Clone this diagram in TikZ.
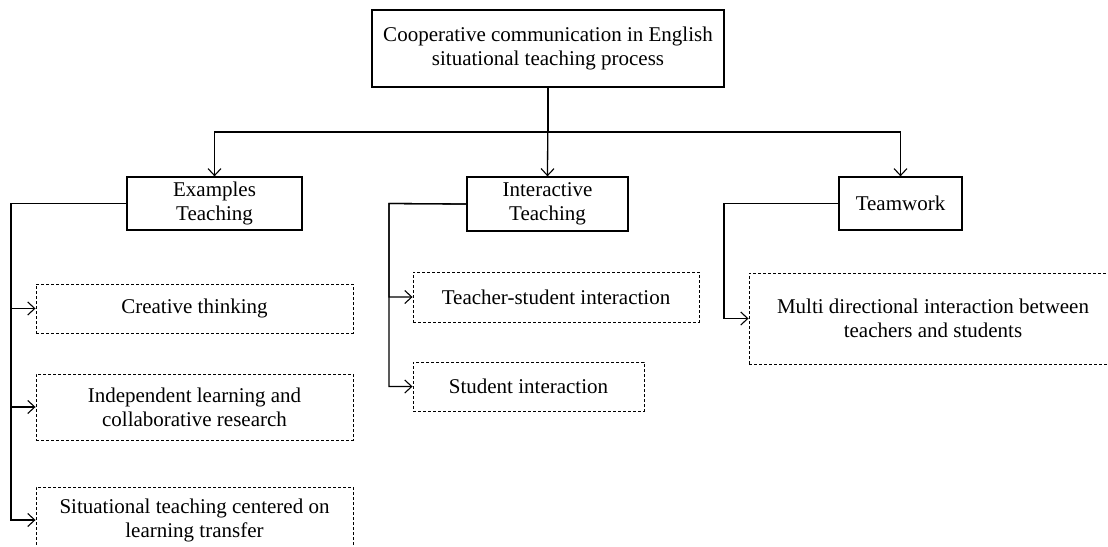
\documentclass[tikz,border=0pt]{standalone}
\usepackage{fontspec}
\setmainfont{Liberation Serif}
\usetikzlibrary{arrows.meta}
\begin{document}
\begin{tikzpicture}[x=1pt,y=-1pt,
  every node/.style={font=\fontsize{21}{24}\selectfont, align=center, inner sep=0pt},
  solidbox/.style={draw, line width=1.3pt, rectangle},
  dashbox/.style={draw, line width=0.9pt, dash pattern=on 3pt off 2pt, rectangle},
  conn/.style={line width=1.3pt},
  arr/.style={conn, -{Straight Barb[length=7pt,width=13pt,line width=1.1pt]}}]
\useasboundingbox (0,0) rectangle (1108,546);
\clip (0,0) rectangle (1108,546);
% main nodes
\node[solidbox, minimum width=352pt, minimum height=77pt] (top) at (548,48.5) {Cooperative communication in English\\situational teaching process};
\node[solidbox, minimum width=175pt, minimum height=53pt] (ex) at (214.5,203.5) {Examples\\Teaching};
\node[solidbox, minimum width=161pt, minimum height=54pt] (int) at (547.5,204) {Interactive\\Teaching};
\node[solidbox, minimum width=123pt, minimum height=53pt] (team) at (900.5,203.5) {Teamwork};
% sub nodes
\node[dashbox, minimum width=317pt, minimum height=49pt] (cre) at (194.5,308.5) {Creative thinking};
\node[dashbox, minimum width=317pt, minimum height=66pt] (ind) at (194.5,407) {Independent learning and\\collaborative research};
\node[dashbox, minimum width=317pt, minimum height=66pt] (sit) at (194.5,520) {Situational teaching centered on\\learning transfer};
\node[dashbox, minimum width=286pt, minimum height=50pt] (ts) at (556,297) {Teacher-student interaction};
\node[dashbox, minimum width=231pt, minimum height=49pt] (si) at (528.5,386.5) {Student interaction};
\node[dashbox, minimum width=368pt, minimum height=91pt] (mul) at (933,318.5) {Multi directional interaction between\\teachers and students};
% junctions
\coordinate (j) at (548,132);
\coordinate (exl) at (11,203.5);
\coordinate (intl) at (389,203.5);
\coordinate (teaml) at (724,203.5);
% top connectors
\draw[arr] (top.south) -- (j) -| (ex.north);
\draw[arr] (top.south) -- (int.north);
\draw[arr] (j) -| (team.north);
% examples branch
\draw[arr] (ex.west) -- (exl) |- (cre.west);
\draw[arr] (ex.west) -- (exl) |- (ind.west);
\draw[arr] (ex.west) -- (exl) |- (sit.west);
% interactive branch
\draw[arr] (int.west) -- (intl) |- (ts.west);
\draw[arr] (int.west) -- (intl) |- (si.west);
% teamwork branch
\draw[arr] (team.west) -- (teaml) |- (mul.west);
\end{tikzpicture}
\end{document}
